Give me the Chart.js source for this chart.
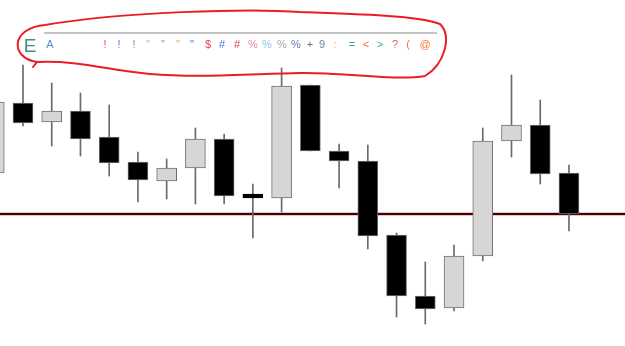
<!DOCTYPE html>
<html>
<head>
<meta charset="utf-8">
<script src="https://cdn.jsdelivr.net/npm/chart.js@4/dist/chart.umd.min.js"></script>
<style>
  html, body { margin: 0; padding: 0; background: #fff; }
  #wrap { width: 625px; height: 346px; }
</style>
</head>
<body>
<div id="wrap"><canvas id="candleChart" width="625" height="346"></canvas></div>
<script>
// candle values (price units)
const openValues  = [104.1, 111.1, 109.2, 110.3, 107.7, 105.2, 103.3, 104.6, 107.5, 101.9, 101.6, 112.9, 106.3, 105.3, 97.9, 91.8, 90.6, 95.8, 107.3, 108.9, 104.1];
const highValues  = [111.9, 114.9, 113.1, 112.1, 110.9, 106.2, 105.5, 108.6, 108.0, 103.0, 114.6, 112.9, 107.0, 106.9, 98.1, 95.2, 96.9, 108.6, 113.9, 111.4, 104.9];
const lowValues   = [103.4, 108.8, 106.8, 105.8, 103.8, 101.2, 101.5, 101.0, 101.0, 97.6, 100.2, 106.3, 102.6, 96.5, 89.7, 89.0, 90.3, 95.3, 105.7, 103.0, 98.3];
const closeValues = [111.2, 109.1, 110.3, 107.5, 105.1, 103.4, 104.6, 107.5, 101.8, 101.7, 112.8, 106.3, 105.3, 97.8, 91.8, 90.5, 95.8, 107.3, 108.9, 104.0, 100.0];
const levelPrice = 100.0;

// header row glyphs and their colours
const headerTitle = "E";
const headerGlyphs = ["A", "!", "!", "!", "\"", "\"", "\"", "\"", "$", "#", "#", "%", "%", "%", "%", "+", "9", ":", "=", "<", ">", "?", "(", "@"];
const headerColors = ["#4a8fe0", "#e05a3a", "#7a6ad8", "#c07860", "#f0a070", "#6aa0e0", "#f0a050", "#6078b0", "#e8405a", "#3a78d8", "#e04050", "#f088b0", "#88c8e8", "#a8a8a8", "#6878a8", "#707070", "#7080a8", "#e8a860", "#30a080", "#e86848", "#40a898", "#e85858", "#f07050", "#f07838"];
const headerX = [50, 105, 119, 134, 148, 163, 178, 192, 208, 222, 237, 253, 267, 282, 296, 310, 322, 335, 352, 366, 380, 395, 408, 425];

let wicks = [];
let bodies = [];
let bodyColors = [];
let bodyBorders = [];
openValues.forEach((o, i) => {
    let c = closeValues[i];
    wicks.push({ x: i, y: [lowValues[i], highValues[i]] });
    // a doji still gets a visible bar
    let doji = Math.abs(c - o) < 0.3;
    bodies.push({ x: i, y: doji ? [o + 0.1, c - 0.1] : [o, c] });
    bodyColors.push(c > o ? '#d6d6d6' : '#000000');
    bodyBorders.push(doji ? '#000000' : '#707070');
});

const levelLine = {
    id: 'levelLine',
    beforeDatasetsDraw(chart) {
        const ctx = chart.ctx;
        const y = Math.round(chart.scales.y.getPixelForValue(levelPrice));
        ctx.save();
        ctx.strokeStyle = 'rgba(220, 120, 120, 0.45)';
        ctx.lineWidth = 4;
        ctx.beginPath();
        ctx.moveTo(0, y);
        ctx.lineTo(chart.width, y);
        ctx.stroke();
        ctx.strokeStyle = '#3a0505';
        ctx.lineWidth = 2;
        ctx.beginPath();
        ctx.moveTo(0, y);
        ctx.lineTo(chart.width, y);
        ctx.stroke();
        ctx.restore();
    }
};

const header = {
    id: 'header',
    afterDraw(chart) {
        const ctx = chart.ctx;
        ctx.save();
        ctx.strokeStyle = '#c4c4c4';
        ctx.lineWidth = 2;
        ctx.beginPath();
        ctx.moveTo(44, 33);
        ctx.lineTo(437, 33);
        ctx.stroke();

        ctx.fillStyle = '#3d8f80';
        ctx.font = '19px "Liberation Sans", Arial, sans-serif';
        ctx.textAlign = 'center';
        ctx.textBaseline = 'alphabetic';
        ctx.fillText(headerTitle, 30, 52);

        ctx.font = '11px "Liberation Sans", Arial, sans-serif';
        headerGlyphs.forEach((g, i) => {
            ctx.fillStyle = headerColors[i];
            ctx.fillText(g, headerX[i], 48);
        });

        // hand drawn red loop round the header
        ctx.strokeStyle = '#ec1c24';
        ctx.lineWidth = 2;
        ctx.lineJoin = 'round';
        ctx.lineCap = 'round';
        ctx.beginPath();
        ctx.moveTo(37, 62);
        ctx.bezierCurveTo(10, 58, 10, 28, 45, 25);
        ctx.bezierCurveTo(120, 12, 250, 8, 300, 12);
        ctx.bezierCurveTo(360, 14, 420, 16, 440, 24);
        ctx.bezierCurveTo(452, 36, 445, 64, 425, 76);
        ctx.bezierCurveTo(395, 81, 340, 72, 300, 73);
        ctx.bezierCurveTo(250, 74, 200, 78, 150, 74);
        ctx.bezierCurveTo(110, 71, 80, 60, 37, 62);
        ctx.lineTo(33, 67);
        ctx.stroke();
        ctx.restore();
    }
};

var ctx = document.getElementById('candleChart').getContext('2d');

var myChart = new Chart(ctx, {
    type: 'bar',
    data: {
        datasets: [{
            data: wicks,
            backgroundColor: '#6a6a6a',
            borderWidth: 0,
            barThickness: 1,
            order: 2
        }, {
            data: bodies,
            backgroundColor: bodyColors,
            borderColor: bodyBorders,
            borderWidth: 1,
            borderSkipped: false,
            barThickness: 20,
            order: 1
        }]
    },
    options: {
        responsive: false,
        animation: false,
        layout: { padding: 0 },
        datasets: { bar: { grouped: false } },
        plugins: {
            legend: { display: false },
            tooltip: { enabled: false }
        },
        scales: {
            x: {
                type: 'linear',
                min: 0.2,
                max: 21.95,
                offset: false,
                display: false
            },
            y: {
                min: 86.8,
                max: 121.4,
                display: false
            }
        }
    },
    plugins: [levelLine, header]
});
</script>
</body>
</html>
